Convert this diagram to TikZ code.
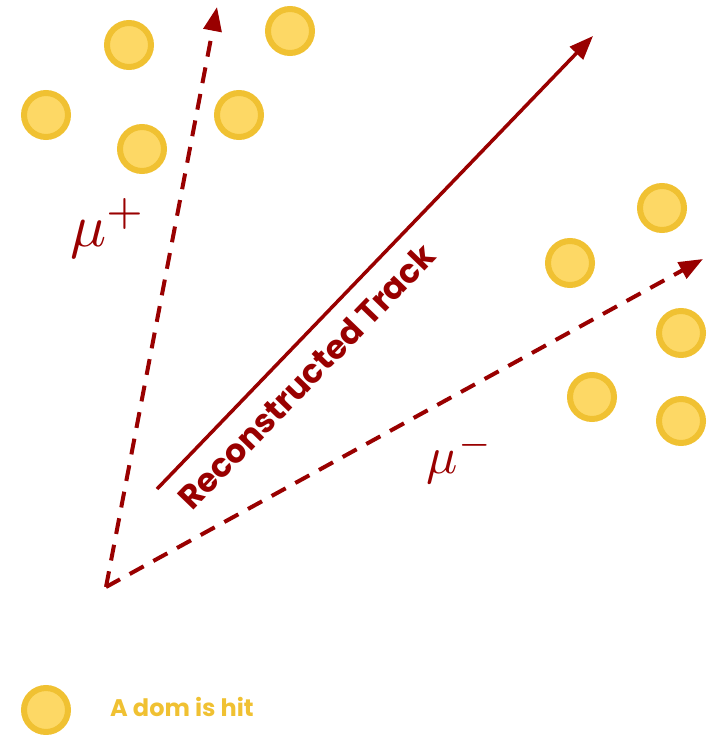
\documentclass[tikz,border=0pt]{standalone}
\usepackage{fontspec}
\newfontfamily\labelfont{Poppins}
\usetikzlibrary{arrows.meta}
\definecolor{trackred}{RGB}{153,0,0}
\definecolor{domfill}{RGB}{253,216,101}
\definecolor{domring}{RGB}{240,193,50}
\begin{document}
\begin{tikzpicture}[x=1pt,y=-1pt,
  dom/.style={circle,draw=domring,fill=domfill,line width=6pt,minimum size=44pt,inner sep=0pt},
  muline/.style={draw=trackred,line width=4pt,dash pattern=on 16pt off 11pt,-{Triangle[length=24pt,width=18pt]}},
  trackline/.style={draw=trackred,line width=3.5pt,-{Triangle[length=24pt,width=18pt]}},
  mulabel/.style={text=trackred,inner sep=0pt},
  tracklabel/.style={text=trackred,font=\labelfont\bfseries\fontsize{33}{38}\selectfont,inner sep=0pt},
  legendlabel/.style={text=domring,font=\labelfont\bfseries\fontsize{24}{28}\selectfont,inner sep=0pt}]
\useasboundingbox (0,0) rectangle (706,735);
% DOMs
\node[dom] (d1) at (129,45) {};
\node[dom] (d2) at (290,31) {};
\node[dom] (d3) at (46,115) {};
\node[dom] (d4) at (239,115) {};
\node[dom] (d5) at (142,149) {};
\node[dom] (d6) at (662,208) {};
\node[dom] (d7) at (570,263) {};
\node[dom] (d8) at (681,333) {};
\node[dom] (d9) at (592,397) {};
\node[dom] (d10) at (681,421) {};
% vertex and tips
\coordinate (o) at (106,587);
\coordinate (mup) at (217,7);
\coordinate (mum) at (703,259);
\coordinate (ts) at (157,489);
\coordinate (te) at (593,36);
\draw[muline] (o) -- (mup);
\draw[muline] (o) -- (mum);
\draw[trackline] (ts) -- (te);
% labels
\node[mulabel,scale=6] (lp) at (108,228) {$\mu^+$};
\node[mulabel,scale=5.2] (lm) at (460,458) {$\mu^-$};
\node[tracklabel,rotate=46,anchor=base] (lt) at (315,385) {Reconstructed Track};
% legend
\node[dom] (leg) at (46,710) {};
\node[legendlabel,anchor=base west] (legt) at (110,716) {A dom is hit};
\end{tikzpicture}
\end{document}
